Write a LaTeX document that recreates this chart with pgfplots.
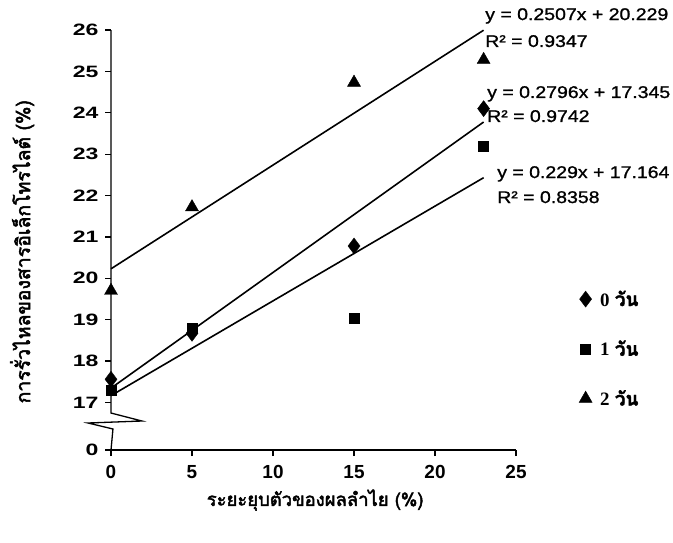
\documentclass[border=0pt]{standalone}
\usepackage{pgfplots}
\pgfplotsset{compat=1.18}
\usepackage{fontspec}
\setmainfont{Liberation Sans}
\newfontfamily\thaifont[Script=Thai, FakeBold=2.5]{Loma}
\newfontfamily\thaileg[Script=Thai, FakeBold=2]{Loma}
\newfontfamily\eqfont[FakeStretch=1.15, FakeBold=1.2]{Liberation Sans}
\newfontfamily\ytickfont[FakeStretch=1.4]{Liberation Sans}
\newfontfamily\legdigit{Liberation Serif}

% electrolyte leakage (%) against fruit shrinkage (%)
\pgfplotstableread{
x y
0 17.56
5 18.67
15 20.78
23 24.10
}\dayzero
\pgfplotstableread{
x y
0 17.30
5 18.79
15 19.03
23 23.19
}\dayone
\pgfplotstableread{
x y
0 19.70
5 21.72
15 24.73
23 25.28
}\daytwo

\begin{document}
\begin{tikzpicture}
\begin{axis}[
  scale only axis, width=405bp, height=420bp,
  xmin=0, xmax=25, ymin=15.85, ymax=26,
  axis lines=left,
  axis line style={-, line width=1.3bp},
  y axis line style={draw=none},
  xtick={0,5,10,15,20,25},
  ytick={15.85,17,18,19,20,21,22,23,24,25,26},
  yticklabels={0,17,18,19,20,21,22,23,24,25,26},
  tick align=outside,
  major tick length=6bp,
  tick style={line width=1.2bp, black},
  /pgf/number format/assume math mode=true,
  x tick label style={font=\fontsize{19}{19}\selectfont\bfseries, yshift=-6bp},
  y tick label style={font=\ytickfont\fontsize{16.5}{16.5}\selectfont\bfseries, xshift=-3bp},
  xlabel={\thaifont ระยะยุบตัวของผลลำไย (\%)},
  ylabel={\thaifont การรั่วไหลของสารอิเล็กโทรไลต์ (\%)},
  xlabel style={at={(axis cs:12.6,14.64)}, anchor=center, font=\fontsize{18.5}{18.5}\selectfont},
  ylabel style={at={(axis cs:-5.49,20.64)}, anchor=center, font=\fontsize{19.5}{19.5}\selectfont},
  clip=false,
  legend style={at={(axis cs:28.7,19.8)}, anchor=north west, draw=none, fill=none,
    row sep=29bp, font=\fontsize{19}{19}\selectfont\bfseries},
  legend cell align=left,
]
\addplot[only marks, mark=diamond*, mark size=8bp, black] table {\dayzero};
\addlegendentry{\hspace{6bp}{\legdigit 0} {\thaileg วัน}}
\addplot[only marks, mark=square*, mark size=5bp, black] table {\dayone};
\addlegendentry{\hspace{6bp}{\legdigit 1} {\thaileg วัน}}
\addplot[only marks, mark=triangle*, mark size=7.5bp, black] table {\daytwo};
\addlegendentry{\hspace{6bp}{\legdigit 2} {\thaileg วัน}}

% linear trend lines
\addplot[black, line width=1.6bp, forget plot] coordinates {(0,20.229) (23,25.995)};
\addplot[black, line width=1.6bp, forget plot] coordinates {(0,17.345) (23,23.776)};
\addplot[black, line width=1.6bp, forget plot] coordinates {(0,17.164) (23,22.431)};

% y axis with a break between 0 and 17
\draw[line width=1.3bp] (axis cs:0,26) -- (axis cs:0,16.744) -- (axis cs:1.91,16.551)
  -- (axis cs:-1.42,16.503) -- (axis cs:0.12,16.358) -- (axis cs:0,15.85);

% trend line equations
\begin{scope}[every node/.style={anchor=base west, inner sep=0pt, font=\eqfont\fontsize{17}{17}\selectfont}]
\node at (axis cs:23.09,26.24) {y = 0.2507x + 20.229};
\node at (axis cs:23.09,25.59) {R² = 0.9347};
\node at (axis cs:23.21,24.357) {y = 0.2796x + 17.345};
\node at (axis cs:23.21,23.777) {R² = 0.9742};
\node at (axis cs:23.83,22.423) {y = 0.229x + 17.164};
\node at (axis cs:23.83,21.819) {R² = 0.8358};
\end{scope}

\coordinate (bl) at (axis cs:-6.852,13.627);
\coordinate (tr) at (axis cs:34.69,26.725);
\end{axis}
\pgfresetboundingbox
\path[use as bounding box] (bl) rectangle (tr);
\end{tikzpicture}
\end{document}
